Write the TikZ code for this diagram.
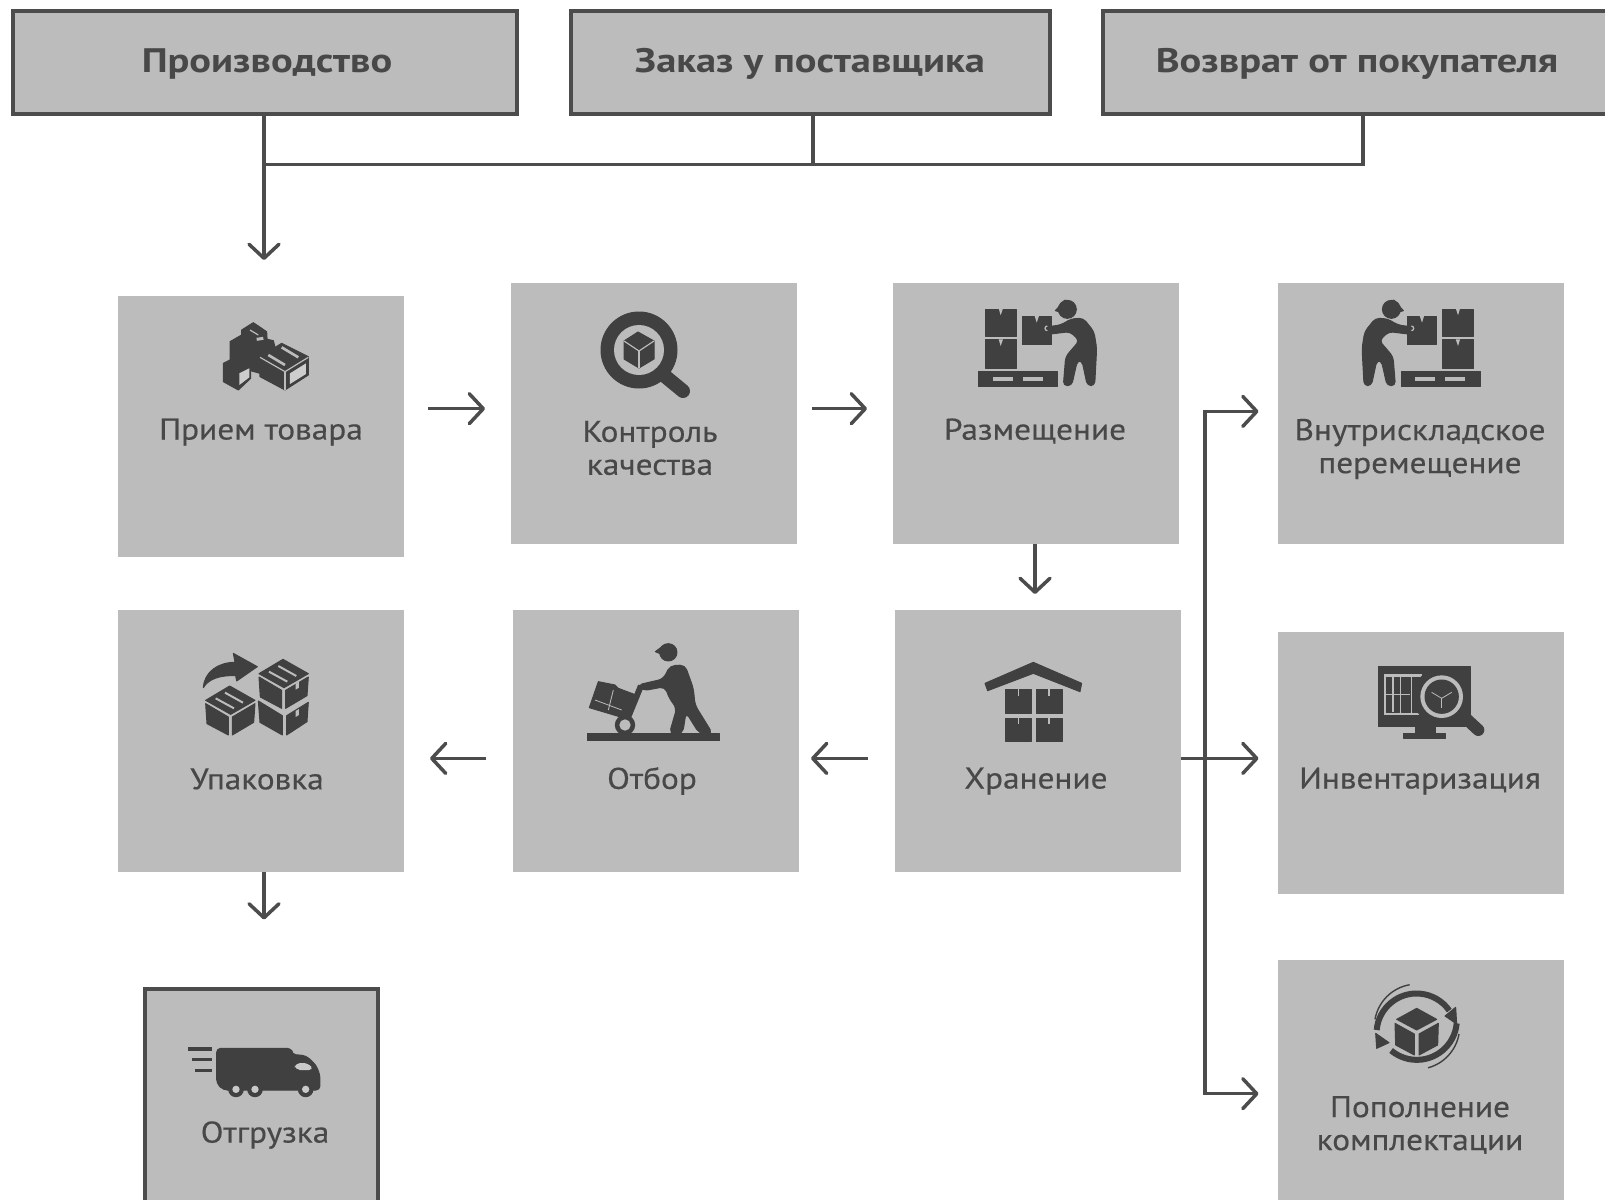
\documentclass[tikz,border=0pt]{standalone}
\usepackage{fontspec}
\setmainfont{PT Sans}
\newfontfamily\lblfont{PT Sans}[FakeStretch=1.11,FakeBold=0.4]
\newfontfamily\topfont{PT Sans}[FakeStretch=1.19]
\usetikzlibrary{arrows.meta}
\definecolor{bx}{HTML}{BCBCBC}
\definecolor{dk}{HTML}{404040}
\definecolor{ln}{HTML}{4C4C4C}
\definecolor{tx}{HTML}{484848}
\tikzset{
  box/.style={rectangle,fill=bx,inner sep=0pt,outer sep=0pt,anchor=north west},
  topbox/.style={box,draw=ln,line width=4pt},
  lbl/.style={text=tx,inner sep=0pt,align=center,font=\lblfont\fontsize{30}{33}\selectfont},
  toplbl/.style={text=tx,inner sep=0pt,font=\topfont\fontsize{34}{36}\selectfont\bfseries},
  conn/.style={draw=ln,line width=3.5pt},
  arr/.style={conn,-{Straight Barb[length=14pt,width=30pt,line cap=round,round]}},
  ic/.style={fill=dk,draw=dk,line width=1pt,line join=round},
  hole/.style={fill=bx},
  lite/.style={draw=bx,line width=1.2pt},
}
% ---- icons, drawn in 3x crop coordinates ----
\newcommand\icBoxes{%
  \path[ic] (95,60)--(130,38)--(170,65)--(172,100)--(130,118)--(95,95)--cycle;
  \path[ic] (60,95)--(100,72)--(190,92)--(200,130)--(150,190)--(60,165)--cycle;
  \path[ic] (150,140)--(215,100)--(295,140)--(295,195)--(225,240)--(150,200)--cycle;
  \path[ic] (40,160)--(70,145)--(122,175)--(122,205)--(85,240)--(40,215)--cycle;
  \path[fill=bx!75!white] (240,190)--(288,160)--(288,192)--(240,222)--cycle;
  \path[fill=bx!75!white] (88,190)--(118,175)--(118,202)--(88,225)--cycle;
  \draw[lite,line width=2.6pt] (175,135)--(225,165);
  \draw[lite,line width=2.6pt] (215,112)--(265,142);
  \draw[lite] (150,142)--(225,185)--(295,142);
  \draw[lite] (225,185)--(225,240);
  \draw[lite] (120,60)--(145,75);
  \draw[lite,line width=3pt] (140,88)--(160,85);
}
\newcommand\icWorker{%
  \path[ic] (47,57) rectangle (138,140);
  \path[ic] (47,150) rectangle (138,235);
  \path[ic] (157,80) rectangle (245,165);
  \path[hole] (86,55)--(99,55)--(92,76)--cycle;
  \path[hole] (86,148)--(99,148)--(92,168)--cycle;
  \path[hole] (194,78)--(207,78)--(200,98)--cycle;
  \path[ic] (25,245) rectangle (262,290);
  \path[hole] (70,262) rectangle (130,273);
  \path[hole] (160,262) rectangle (220,273);
  \path[ic] (292,58) circle[radius=27pt];
  \path[ic] (256,62)--(285,30)--(300,48)--(285,70)--cycle;
  \path[ic,rounded corners=4pt] (305,86)--(340,85)--(372,125)--(380,175)--(374,287)--(352,287)--(336,212)--(322,212)--(305,287)--(280,287)--(287,200)--(328,152)--(300,125)--(225,134)--(220,112)--(272,105)--cycle;
  \draw[lite] (232,108) arc[start angle=90,end angle=270,radius=7pt];
}
\newcommand\icCube[1]{%
  \begin{scope}[shift={#1}]
  \path[ic] (0,48)--(72,5)--(148,48)--(75,90)--cycle;
  \path[ic] (0,58)--(68,98)--(68,152)--(4,118)--cycle;
  \path[ic] (80,98)--(148,58)--(144,114)--(80,152)--cycle;
  \draw[lite,line width=2pt] (30,42)--(85,72);
  \draw[lite,line width=2pt] (58,25)--(112,55);
  \end{scope}
}
\newcommand\icPack{%
  \path[ic] (25,128)..controls (28,80) and (70,52) .. (120,52)--(115,25)--(187,65)--(125,108)--(122,92).. controls (75,90) and (40,102) .. (25,128)--cycle;
  \icCube{(32,118)}
  \icCube{(192,38)}
  \path[ic] (190,168)--(262,212)--(262,270)--(195,232)--cycle;
  \path[ic] (275,212)--(340,172)--(336,230)--(275,270)--cycle;
  \path[hole] (302,198)--(312,192)--(312,210)--(302,216)--cycle;
  \path[hole] (302,116)--(312,110)--(312,128)--(302,134)--cycle;
}
\newcommand\icCart{%
  \path[ic] (22,296) rectangle (420,318);
  \path[ic] (135,270) circle[radius=29pt];
  \path[hole] (135,270) circle[radius=17pt];
  \path[ic] (55,140)--(105,150)--(115,160)--(168,180)--(135,250)--(28,218)--cycle;
  \draw[lite,line width=.8pt] (45,195)--(125,225);
  \draw[lite,line width=.8pt] (100,165)--(85,225);
  \draw[draw=dk,line width=6pt] (183,152)--(145,245);
  \path[ic] (265,52) circle[radius=26pt];
  \path[ic] (226,50)--(255,28)--(275,40)--(255,62)--cycle;
  \path[ic,rounded corners=5pt] (270,92)--(315,90)--(340,160)--(345,210)--(398,296)--(358,296)--(318,232)--(308,296)--(268,296)--(290,220)--(268,190)--(255,155)--(190,167)--(172,150)--(250,132)--cycle;
}
\newcommand\icStore{%
  \path[ic] (30,100)--(175,37)--(320,100)--(315,125)--(175,70)--(38,122)--cycle;
  \path[ic] (92,118) rectangle (168,190);
  \path[ic] (184,118) rectangle (262,190);
  \path[ic] (92,205) rectangle (168,275);
  \path[ic] (184,205) rectangle (262,275);
  \foreach \xx in {130,222} {
    \draw[lite] (\xx,116)--(\xx,138);
    \draw[lite] (\xx,203)--(\xx,222);
  }
}
\newcommand\icMonitor{%
  \path[ic] (40,35) rectangle (315,215);
  \path[hole] (58,58) rectangle (170,180);
  \path[ic] (64,66) rectangle (104,172);
  \path[ic] (110,66) rectangle (136,172);
  \path[ic] (142,66) rectangle (165,172);
  \draw[lite] (64,118)--(136,118);
  \draw[lite] (84,66)--(84,172);
  \path[ic] (150,215) rectangle (210,240);
  \path[ic] (115,235) rectangle (240,250);
  \draw[draw=dk,line width=12pt,line cap=round] (300,188)--(340,225);
  \path[ic] (230,125) circle[radius=85pt];
  \path[hole] (230,125) circle[radius=64pt];
  \path[ic] (230,125) circle[radius=50pt];
  \draw[lite,line width=.8pt] (230,130)--(230,160);
  \draw[lite,line width=.8pt] (230,130)--(200,112);
  \draw[lite,line width=.8pt] (230,130)--(260,112);
}
\newcommand\icCycle{%
  \path[ic] (155,85)--(215,118)--(155,150)--(95,118)--cycle;
  \path[ic] (90,130)--(148,162)--(148,225)--(92,195)--cycle;
  \path[ic] (162,162)--(220,130)--(218,195)--(162,225)--cycle;
  \draw[draw=dk,line width=6pt] (35,150) arc[start angle=175,end angle=35,radius=120pt];
  \draw[draw=dk,line width=6pt] (275,130) arc[start angle=-5,end angle=-130,radius=120pt];
  \path[ic] (272,82)--(275,132)--(240,108)--cycle;
  \path[ic] (32,160)--(35,205)--(72,188)--cycle;
  \draw[draw=dk,line width=1.4pt] (30,118) arc[start angle=170,end angle=100,radius=128pt];
  \draw[draw=dk,line width=1.4pt] (282,162) arc[start angle=-10,end angle=-75,radius=128pt];
}
\newcommand\icTruck{%
  \draw[draw=dk,line width=3.2pt] (25,42)--(95,42);
  \draw[draw=dk,line width=3.2pt] (35,74)--(95,74);
  \draw[draw=dk,line width=3.2pt] (45,106)--(95,106);
  \path[ic,rounded corners=4pt] (110,40)--(335,40)--(335,58)--(378,62)--(408,90)--(420,120)--(420,165)--(130,165)--(110,145)--cycle;
  \path[fill=bx!80!white,rounded corners=5pt] (345,84)--(385,84)--(402,105)--(345,105)--cycle;
  \foreach \xx in {168,225,377} {
    \path[ic] (\xx,163) circle[radius=22pt];
    \path[fill=bx!80!white] (\xx,163) circle[radius=11pt];
  }
}
\begin{document}
\begin{tikzpicture}[x=1pt,y=-1pt]
\useasboundingbox (0,0) rectangle (1605,1199);
\clip (0,0) rectangle (1605,1199);
\fill[white] (0,0) rectangle (1605,1199);
% top boxes
\node[topbox,minimum width=504pt,minimum height=103pt] (proizv) at (13,11) {};
\node[topbox,minimum width=479pt,minimum height=103pt] (zakaz) at (570.5,11) {};
\node[topbox,minimum width=530pt,minimum height=103pt] (vozvrat) at (1103,11) {};
% process boxes
\node[box,minimum width=286pt,minimum height=261pt] (priem) at (118,296) {};
\node[box,minimum width=285.5pt,minimum height=261pt] (kontrol) at (511,283) {};
\node[box,minimum width=286pt,minimum height=261pt] (razm) at (893,283) {};
\node[box,minimum width=286pt,minimum height=261pt] (vnutr) at (1277.5,283) {};
\node[box,minimum width=286pt,minimum height=262pt] (upak) at (118,610) {};
\node[box,minimum width=286pt,minimum height=262pt] (otbor) at (513,610) {};
\node[box,minimum width=286pt,minimum height=262pt] (hran) at (895,610) {};
\node[box,minimum width=286pt,minimum height=261.5pt] (inv) at (1277.5,632) {};
\node[box,minimum width=286pt,minimum height=260pt] (popol) at (1277.5,960) {};
\node[topbox,minimum width=233pt,minimum height=240pt] (otgr) at (145,989) {};
% labels
\node[toplbl] (tA) at (267,64) {Производство};
\node[toplbl] (tB) at (810,64) {Заказ у поставщика};
\node[toplbl] (tC) at (1357,64) {Возврат от покупателя};
\node[lbl] (lPriem) at (261,432) {Прием товара};
\node[lbl] (lKontrol) at (650,448) {Контроль\\качества};
\node[lbl] (lRazm) at (1035,431) {Размещение};
\node[lbl] (lVnutr) at (1420,449) {Внутрискладское\\перемещение};
\node[lbl] (lUpak) at (257,779) {Упаковка};
\node[lbl] (lOtbor) at (652,781) {Отбор};
\node[lbl] (lHran) at (1036,781) {Хранение};
\node[lbl] (lInv) at (1420,781) {Инвентаризация};
\node[lbl] (lOtgr) at (265,1135) {Отгрузка};
\node[lbl] (lPopol) at (1420,1125) {Пополнение\\комплектации};
% connector coordinates
\coordinate (hb) at (264,164.6);
\coordinate (hbB) at (813,164.6);
\coordinate (hbC) at (1363,164.6);
\coordinate (tipA) at (264,260);
\coordinate (r1) at (0,408.7);
\coordinate (r2) at (0,758.4);
\coordinate (dn) at (1035,594);
\coordinate (dn2) at (264,919.5);
\coordinate (busT) at (1205,411.4);
\coordinate (busB) at (1205,1093.7);
\coordinate (busM) at (1205,758.4);
% connectors
\draw[conn] (hb) -- (hbC) -- (vozvrat.south -| hbC);
\draw[conn] (zakaz.south -| hbB) -- (hbB);
\draw[arr] (proizv.south -| hb) -- (tipA);
\draw[arr,shorten <=24pt,shorten >=26pt] (priem.east |- r1) -- (kontrol.west |- r1);
\draw[arr,shorten <=15pt,shorten >=26pt] (kontrol.east |- r1) -- (razm.west |- r1);
\draw[arr] (razm.south -| dn) -- (dn);
\draw[arr,shorten <=27pt,shorten >=12pt] (hran.west |- r2) -- (otbor.east |- r2);
\draw[arr,shorten <=27pt,shorten >=26pt] (otbor.west |- r2) -- (upak.east |- r2);
\draw[arr] (upak.south -| dn2) -- (dn2);
\draw[arr,shorten >=19pt] (hran.east |- r2) -- (inv.west |- r2);
\draw[arr,shorten >=19pt] (busM) -- (busT) -- (vnutr.west |- busT);
\draw[arr,shorten >=19pt] (busM) -- (busB) -- (popol.west |- busB);
% icons
\begin{scope}[shift={(210,310)},scale=0.3333] \icBoxes \end{scope}
\begin{scope}[shift={(639,350)}]
  \draw[draw=dk,line width=14pt,line cap=round] (27,27)--(44,41);
  \path[ic] (0,0) circle[radius=38pt];
  \path[hole] (0,0) circle[radius=25pt];
  \path[ic] (-1,-18)--(15,-9)--(15,9)--(0,18)--(-15,9)--(-15,-9)--cycle;
  \draw[lite] (0,1)--(0,18);
  \draw[lite] (0,1)--(-15,-9);
  \draw[lite] (0,1)--(15,-9);
\end{scope}
\begin{scope}[shift={(970,290)},scale=0.3333] \icWorker \end{scope}
\begin{scope}[shift={(1488.7,290)},xscale=-0.3333,yscale=0.3333] \icWorker \end{scope}
\begin{scope}[shift={(195,645)},scale=0.3333] \icPack \end{scope}
\begin{scope}[shift={(580,635)},scale=0.3333] \icCart \end{scope}
\begin{scope}[shift={(975,650)},scale=0.3333] \icStore \end{scope}
\begin{scope}[shift={(1365,655)},scale=0.3333] \icMonitor \end{scope}
\begin{scope}[shift={(1365,980)},scale=0.3333] \icCycle \end{scope}
\begin{scope}[shift={(180,1035)},scale=0.3333] \icTruck \end{scope}
\end{tikzpicture}
\end{document}
